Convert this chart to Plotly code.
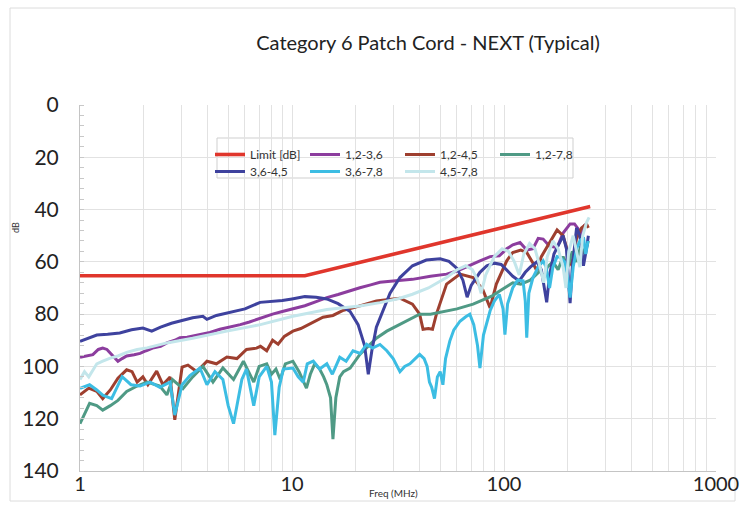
import plotly.graph_objects as go

# ---------------- data ----------------
limit_f = [1, 11.5, 255]
limit_db = [65.3, 65.3, 38.8]

p12_36_f = [1, 1.08, 1.15, 1.22, 1.28, 1.34, 1.42, 1.51, 1.58, 1.66, 1.8, 1.92, 2.05, 2.2, 2.4, 2.57, 2.8, 2.96, 3.2, 3.68,
            4.1, 4.57, 5.1, 5.7, 6.3, 7.07, 8.1, 9, 10.1, 11.5, 13, 14.6, 16.5, 18.8, 20.9, 23.5, 26, 30, 34, 37,
            45, 53.6, 60, 70, 77, 86, 95, 103, 110, 119, 128, 137, 145, 153, 164, 178, 190, 205, 215, 224,
            232, 240, 248]
p12_36_db = [96.5, 96, 95.5, 93.5, 93, 93.5, 95.5, 98, 97, 96, 95.5, 95, 94, 93, 92.3, 91, 90, 89, 88.8, 87.8,
             87, 85.8, 85, 84, 83, 81.5, 80, 79, 78.1, 76.8, 75.2, 73.7, 72.5, 71, 69.9, 68.8, 67.8, 67.3, 67, 66.7,
             65.5, 64.7, 63.5, 61, 59.6, 58, 57.7, 55, 53.5, 52.6, 55.5, 55, 51, 51.3, 54, 54.5, 49, 45.5, 45.5, 47.4,
             50, 46, 45.5]

p12_45_f = [1, 1.1, 1.2, 1.28, 1.39, 1.51, 1.66, 1.76, 1.86, 1.98, 2.09, 2.3, 2.46, 2.66, 2.8, 3.03, 3.23, 3.56, 3.97, 4.4,
            4.93, 5.5, 6.1, 6.8, 7.1, 7.6, 8.1, 8.6, 9.2, 10.1, 11, 12.6, 14, 15.6, 17.5, 19.4, 22, 25, 28, 32.3,
            37, 40, 41.5, 44, 46, 48, 53.6, 62, 71.5, 79.3, 86, 92, 103, 110, 120, 128, 136, 143, 150, 159,
            178, 190, 198, 209, 220, 232, 245, 250]
p12_45_db = [110.9, 108.3, 109.5, 112.3, 109, 104.5, 101.3, 102, 106, 104, 107, 101.8, 107, 104, 120.4, 100.3, 99.5, 102, 98, 99,
             96.4, 97, 93.5, 93, 92.3, 94, 90, 91.5, 88.5, 86.5, 85.5, 83.1, 81.2, 80.5, 78.5, 77.6, 76.2, 75, 74.5, 73.9,
             76.2, 80, 85.8, 85.5, 85.8, 80, 68.5, 64.7, 66, 70.5, 77.6, 68.5, 59.6, 56.4, 55.5, 56.4, 60, 63.5, 58, 54.5,
             47.8, 50, 55, 61.5, 51, 47, 45.5, 47]

p12_78_f = [1, 1.05, 1.11, 1.2, 1.28, 1.39, 1.51, 1.66, 1.86, 2.07, 2.38, 2.57, 2.73, 3.06, 3.4, 3.8, 4.24, 4.72, 5.3, 5.9,
            6.6, 7.0, 7.6, 8.0, 8.4, 8.8, 9.3, 10.1, 10.8, 11.7, 12.2, 12.8, 13.5, 14.1, 14.6, 15.2, 15.6, 16.1, 16.8, 17.5,
            18.8, 20.9, 22.5, 25, 28, 32.3, 36, 40, 45, 53.6, 60, 71.5, 80, 88, 95, 103, 110, 120, 133, 148,
            155, 160, 170, 180, 190, 200, 210, 220, 230, 240, 250]
p12_78_db = [121.9, 118, 114.1, 115, 116.7, 115, 113, 109.6, 107.5, 106, 107.5, 110.9, 105, 108.5, 104, 100, 106, 100.6, 105, 98,
             106, 100, 99, 103, 101, 105, 99, 98, 102, 108.3, 103, 99, 101, 104, 107, 112, 127.8, 112, 104, 102,
             100.6, 95.4, 93, 89.2, 86.5, 84, 82, 80, 80, 78.7, 78, 76.2, 74.5, 73, 71.2, 69.5, 68, 68.5, 67, 63.5,
             66, 62, 60, 63, 58, 62, 56, 60, 54, 57, 52]

p36_45_f = [1, 1.1, 1.2, 1.35, 1.54, 1.75, 1.98, 2.18, 2.4, 2.7, 3.0, 3.4, 3.8, 3.97, 4.4, 5, 6, 7.07, 8, 9,
            10, 11.5, 13, 14.6, 16.5, 18.8, 20.5, 22, 22.9, 23.8, 25, 27, 29, 32.3, 37, 43, 50, 55, 60, 64,
            67, 70, 77, 83, 90, 97, 103, 110, 118, 126, 133, 143, 150, 155, 159, 164, 172, 178, 190, 197,
            202, 205, 210, 220, 228, 237, 245, 250]
p36_45_db = [90.4, 89, 88, 87.7, 87.2, 86, 85.3, 86.5, 85, 83.5, 82.5, 81.4, 80.8, 82, 80.5, 79.5, 78, 75.5, 75.2, 74.8,
             74.2, 73.3, 73.5, 74.2, 76, 79, 84, 92, 103, 94, 85, 78, 72, 66, 61.5, 59.3, 58.8, 59.8, 62.5, 67,
             73.5, 69, 64, 61.5, 60.5, 61, 63, 65.5, 67.3, 64, 62, 60, 63, 70, 75.5, 65, 57, 54.5, 50, 55,
             68, 75.8, 62, 47, 50, 61.5, 55, 50]

p36_78_f = [1, 1.11, 1.2, 1.28, 1.41, 1.58, 1.74, 1.92, 2.14, 2.38, 2.66, 2.8, 3.03, 3.3, 3.68, 3.97, 4.33, 4.72, 5.0, 5.3,
            5.8, 6.1, 6.6, 7.0, 7.6, 8.0, 8.3, 8.7, 9.1, 10.1, 10.7, 11.3, 11.8, 12.6, 13.5, 14.6, 15.5, 16.8, 18, 19.4,
            21, 22.5, 24, 26, 28, 30, 32.3, 34, 36, 38, 40, 42, 43.4, 44.5, 45.6, 47, 48.5, 50, 51.5, 53,
            55.5, 58, 62, 66, 69, 72, 75, 77, 80, 86, 90, 95, 99, 101, 104, 110, 116, 123, 126, 128,
            131, 137, 145, 153, 158, 164, 170, 178, 184, 193, 200, 205, 212, 220, 228, 237, 243, 249]
p36_78_db = [108.4, 107, 109, 111, 112.3, 103.9, 107, 107.5, 106, 108, 106, 118.6, 107, 103.5, 100.6, 107, 102, 105, 115, 121.9,
             105, 101, 115, 104, 100, 106, 126.3, 108, 101, 100.6, 104, 106, 99, 98, 101, 99, 103, 96.5, 98, 94,
             95, 91.5, 93, 91.6, 94, 97, 102, 100, 99, 97, 95.4, 97, 100, 106, 108, 112.3, 104, 102, 107, 97,
             90.3, 86, 82.7, 81, 80, 84, 92, 100.6, 88, 78.7, 75, 72.4, 78, 87.8, 76, 69.9, 67, 67.3, 75, 89,
             72, 66, 62, 59.6, 62, 70, 62, 58, 58.3, 60, 66, 73.7, 62, 55, 52, 50.6, 57, 52]

p45_78_f = [1, 1.05, 1.1, 1.15, 1.2, 1.28, 1.39, 1.51, 1.66, 1.86, 2.07, 2.57, 3.4, 4.93, 7.1, 10.1, 14.6, 20.9, 26, 32,
            37, 44, 53.6, 60, 66, 71, 75, 78, 82, 90, 98, 105, 112, 118, 124, 132, 140, 148, 154, 160,
            170, 180, 190, 196, 202, 212, 222, 228, 235, 245, 252]
p45_78_db = [105, 102, 104, 101.4, 99, 98, 96.8, 96, 94.6, 93.5, 92.9, 91, 89.2, 86.5, 84, 80.8, 78.2, 76.9, 75.6, 74,
             72.4, 70, 66, 63, 61.5, 63, 67, 72, 65, 58, 55, 56, 60, 65, 57, 53, 55, 62, 68, 58,
             52, 55, 62, 70, 56, 50, 58, 62, 50, 45, 43]

x_tick_vals = [1, 10, 100, 1000]
x_tick_text = ["1", "10", "100", "1000"]
y_tick_vals = [0, 20, 40, 60, 80, 100, 120, 140]

# ---------------- figure ----------------
FONT = "Lato"
series = [
    ("Limit [dB]", limit_f, limit_db, "#e0362c", 3.6, "legend"),
    ("1,2-3,6", p12_36_f, p12_36_db, "#8c3d9e", 3.0, "legend"),
    ("1,2-4,5", p12_45_f, p12_45_db, "#9e3f2f", 3.0, "legend"),
    ("1,2-7,8", p12_78_f, p12_78_db, "#4f9a85", 3.0, "legend"),
    ("3,6-4,5", p36_45_f, p36_45_db, "#3e429e", 3.0, "legend2"),
    ("3,6-7,8", p36_78_f, p36_78_db, "#3cbde3", 3.0, "legend2"),
    ("4,5-7,8", p45_78_f, p45_78_db, "#c3e6eb", 3.0, "legend2"),
]

fig = go.Figure()
for name, fx, fy, col, w, lg in series:
    fig.add_trace(go.Scatter(x=fx, y=fy, mode="lines", name=name,
                             line=dict(color=col, width=w), legend=lg))

# log-axis gridlines at every 1..9 x decade
grid_vals = [m * 10 ** k for k in range(0, 3) for m in range(1, 10)] + [1000]
grid_text = [x_tick_text[x_tick_vals.index(v)] if v in x_tick_vals else "" for v in grid_vals]

L, R, T, B = 80, 24, 105, 39
W, H = 740, 510
pw, ph = W - L - R, H - T - B

def px(xp):
    return (xp - L) / pw

def py(yp):
    return (H - B - yp) / ph

legend_common = dict(orientation="h", xanchor="left", yanchor="top",
                     font=dict(family=FONT, size=12, color="#333"),
                     bgcolor="rgba(0,0,0,0)", itemwidth=30,
                     entrywidthmode="pixels", entrywidth=50, tracegroupgap=0)

fig.update_layout(
    width=W, height=H,
    margin=dict(l=L, r=R, t=T, b=B, autoexpand=False),
    paper_bgcolor="white", plot_bgcolor="white",
    font=dict(family=FONT, color="#222"),
    title=dict(text="Category 6 Patch Cord - NEXT (Typical)", x=428 / W, xref="container",
               xanchor="center", y=1 - 43 / H, yref="container", yanchor="middle",
               font=dict(family=FONT, size=20, color="#222")),
    showlegend=True,
    legend=dict(x=px(210), y=py(140), **legend_common),
    legend2=dict(x=px(210), y=py(157), **legend_common),
    xaxis=dict(type="log", range=[0, 3], tickvals=grid_vals, ticktext=grid_text,
               showgrid=True, gridcolor="#e2e2e2", gridwidth=1,
               showline=True, linecolor="#c4c4c4", linewidth=1,
               ticks="", ticklabelstandoff=-5, ticklabeloverflow="allow",
               zeroline=False, automargin=False,
               tickfont=dict(family=FONT, size=20, color="#222")),
    yaxis=dict(range=[140, 0], tickvals=y_tick_vals,
               showgrid=True, gridcolor="#e2e2e2", gridwidth=1,
               showline=True, linecolor="#c4c4c4", linewidth=1,
               ticks="", ticklabelstandoff=16, zeroline=False, automargin=False,
               minor=dict(dtick=4, ticks="inside", ticklen=4, tickcolor="#c8c8c8", showgrid=False),
               tickfont=dict(family=FONT, size=21, color="#222")),
    shapes=[
        dict(type="rect", xref="paper", yref="paper", x0=px(217), x1=px(573), y0=py(178), y1=py(138),
             line=dict(color="#cfcfcf", width=1), fillcolor="white", layer="between"),
        dict(type="rect", xref="paper", yref="paper", x0=px(10), x1=px(735), y0=py(501), y1=py(8),
             line=dict(color="#dcdcdc", width=1), fillcolor="rgba(0,0,0,0)", layer="below"),
    ],
    annotations=[
        dict(text="Freq (MHz)", xref="paper", yref="paper", x=px(393), y=py(493), showarrow=False,
             xanchor="center", yanchor="middle", font=dict(family=FONT, size=10, color="#333")),
        dict(text="dB", xref="paper", yref="paper", x=px(15), y=py(228), showarrow=False, textangle=-90,
             xanchor="center", yanchor="middle", font=dict(family=FONT, size=9, color="#333")),
    ],
)

fig.write_html("out.html", config={"displayModeBar": False},
               post_script="document.body.style.margin='0';document.body.style.overflow='hidden';")
